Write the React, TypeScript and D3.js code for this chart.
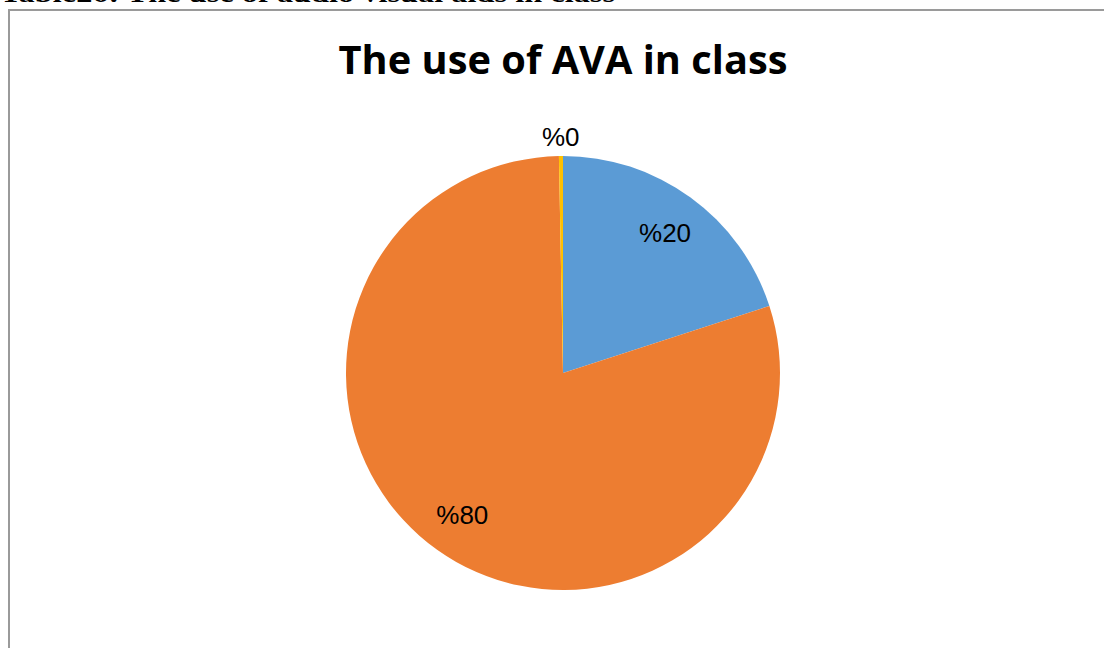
import React from "react";
import * as d3 from "d3";

const categories = ["Yes", "No", "No answer"];
const values = [20, 79.7, 0.3];
const colors = ["#5B9BD5", "#ED7D31", "#FFC000"];
const title = "The use of AVA in class";
const caption = "Table26: The use of audio visual aids in class";

export default function App() {
  const W = 1104, H = 648;
  const cx = 563, cy = 373, r = 217;
  const total = d3.sum(values);
  const pie = d3.pie<number>().sort(null).startAngle(0).endAngle(2 * Math.PI);
  const arcs = pie(values);
  const arc = d3.arc<d3.PieArcDatum<number>>().innerRadius(0).outerRadius(r);
  const labelArc = d3.arc<d3.PieArcDatum<number>>().innerRadius(r * 0.8).outerRadius(r * 0.8);
  const outArc = d3.arc<d3.PieArcDatum<number>>().innerRadius(r + 19).outerRadius(r + 19);
  return (
    <svg width={W} height={H} style={{ position: "absolute", left: 0, top: 0, background: "#fff" }}>
      <text x={0} y={2} fontFamily="Liberation Serif" fontWeight="bold" fontSize={26} textLength={615} lengthAdjust="spacingAndGlyphs">{caption}</text>
      <rect x={9} y={10} width={W} height={H} fill="none" stroke="#9a9a9a" strokeWidth={2} />
      <text x={cx} y={74} textAnchor="middle" fontFamily="Open Sans" fontWeight="bold" fontSize={40} textLength={449} lengthAdjust="spacingAndGlyphs">{title}</text>
      <g transform={`translate(${cx},${cy})`}>
        {arcs.map((a, i) => (
          <path key={categories[i]} d={arc(a) || ""} fill={colors[i]} />
        ))}
        {arcs.map((a, i) => {
          const small = a.value / total < 0.02;
          const [x, y] = small ? outArc.centroid(a) : labelArc.centroid(a);
          return (
            <text key={"l" + i} x={x} y={y} dy="0.36em" textAnchor="middle" fontFamily="Liberation Sans" fontSize={26} fill="#000">
              {"%" + Math.round((a.value / total) * 100)}
            </text>
          );
        })}
      </g>
    </svg>
  );
}
